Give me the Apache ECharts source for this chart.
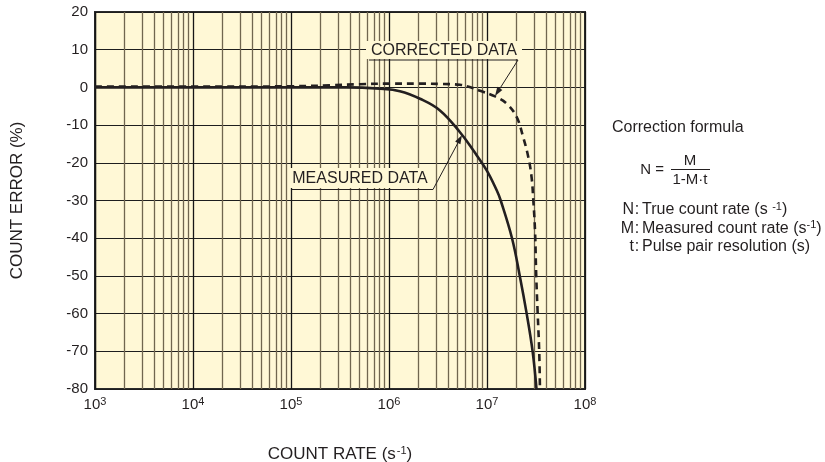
<!DOCTYPE html>
<html><head><meta charset="utf-8">
<script src="https://cdn.jsdelivr.net/npm/echarts@6/dist/echarts.min.js"></script>
<style>html,body{margin:0;padding:0;background:#fff}#c{width:825px;height:462px}</style>
</head><body><div id="c"></div>
<script>
// ---- data ----
const xDecadeExponents = [3, 4, 5, 6, 7, 8];
const minorMultipliers = [2, 3, 4, 5, 6, 7, 8, 9];
const yTickValues = [20, 10, 0, -10, -20, -30, -40, -50, -60, -70, -80];

const measuredRate  = [1e3, 1e4, 1e5, 3.7e5, 8.1e5, 1.29e6, 2.07e6, 3.31e6, 5.3e6, 7.24e6, 9.93e6, 1.256e7, 1.38e7, 1.8e7, 2.16e7, 2.54e7, 2.92e7, 3.2e7];
const measuredError = [0,   0,   0,   0,     -0.35, -1.0,   -3.0,   -6.1,   -11.9, -16.7,  -22.0,  -27.3,   -30,    -40,   -50,    -60,    -70,    -80];

const correctedRate  = [1e3, 1e4, 1e5, 2.5e5, 5e5,  1e6, 2e6, 3.5e6, 5.3e6, 7e6,  8.5e6, 1.21e7, 1.59e7, 2.01e7, 2.34e7, 2.64e7, 2.85e7, 2.97e7, 3.09e7, 3.18e7, 3.29e7, 3.41e7, 3.47e7];
const correctedError = [0.2, 0.2, 0.3, 0.55,  0.85, 1.0, 1.0, 0.9,   0.7,   -0.1, -0.9,  -2.4,   -4.3,   -7.9,   -13.2,  -18.5,  -23.8,  -30,    -38,    -50,    -60,    -70,    -80];

// ---- chart ----
const FONT = "'Liberation Sans', Arial, Helvetica, sans-serif";
const INK = '#231f20';
const BG = '#fff8d6';

const minorLines = [];
xDecadeExponents.slice(0, -1).forEach(e => {
  minorMultipliers.forEach(m => minorLines.push({ xAxis: m * Math.pow(10, e) }));
});

const chart = echarts.init(document.getElementById('c'), null, { renderer: 'canvas' });

function arrowHead(x0, y0, x1, y1, len, half) {
  const dx = x1 - x0, dy = y1 - y0, L = Math.hypot(dx, dy);
  const ux = dx / L, uy = dy / L;
  const bx = x1 - ux * len, by = y1 - uy * len;
  return [[x1, y1], [bx - uy * half, by + ux * half], [bx + uy * half, by - ux * half]];
}

const graphics = [
  // CORRECTED DATA annotation
  { type: 'rect', shape: { x: 366, y: 41, width: 156, height: 18 }, style: { fill: BG }, z: 50 },
  { type: 'text', x: 444, y: 51, z: 51, style: { text: 'CORRECTED DATA', font: '16px ' + FONT, fill: INK, align: 'center', verticalAlign: 'middle' } },
  { type: 'polyline', z: 51, shape: { points: [[369, 60], [518, 60], [497, 93]] }, style: { stroke: INK, lineWidth: 1, fill: null } },
  { type: 'polygon', z: 51, shape: { points: arrowHead(518, 60, 495, 96, 9, 3) }, style: { fill: INK } },
  // MEASURED DATA annotation
  { type: 'rect', shape: { x: 290, y: 168, width: 142, height: 20 }, style: { fill: BG }, z: 50 },
  { type: 'text', x: 360, y: 179, z: 51, style: { text: 'MEASURED DATA', font: '16px ' + FONT, fill: INK, align: 'center', verticalAlign: 'middle' } },
  { type: 'polyline', z: 51, shape: { points: [[292, 189.5], [433, 189.5], [460, 139]] }, style: { stroke: INK, lineWidth: 1, fill: null } },
  { type: 'polygon', z: 51, shape: { points: arrowHead(433, 189, 462, 135, 9, 3) }, style: { fill: INK } },
  // Right text block
  { type: 'text', x: 612, y: 128, style: { text: 'Correction formula', font: '16px ' + FONT, fill: INK, align: 'left', verticalAlign: 'middle' } },
  { type: 'text', x: 664, y: 170, style: { text: 'N =', font: '15px ' + FONT, fill: INK, align: 'right', verticalAlign: 'middle' } },
  { type: 'text', x: 690, y: 161, style: { text: 'M', font: '15px ' + FONT, fill: INK, align: 'center', verticalAlign: 'middle' } },
  { type: 'line', shape: { x1: 671, y1: 169.5, x2: 710, y2: 169.5 }, style: { stroke: INK, lineWidth: 1 } },
  { type: 'text', x: 690, y: 180, style: { text: '1-M·t', font: '15px ' + FONT, fill: INK, align: 'center', verticalAlign: 'middle' } },
];

const legendRows = [
  { k: 'N', t: 'True count rate (s {s|-1})', y: 210 },
  { k: 'M', t: 'Measured count rate (s{s|-1})', y: 228.5 },
  { k: 't', t: 'Pulse pair resolution (s)', y: 247 },
];
legendRows.forEach(r => {
  graphics.push({ type: 'text', x: 634, y: r.y, style: { text: r.k, font: '16px ' + FONT, fill: INK, align: 'right', verticalAlign: 'middle' } });
  graphics.push({ type: 'text', x: 637, y: r.y, style: { text: ':', font: '16px ' + FONT, fill: INK, align: 'center', verticalAlign: 'middle' } });
  graphics.push({ type: 'text', x: 642, y: r.y, style: { text: r.t, font: '16px ' + FONT, fill: INK, align: 'left', verticalAlign: 'middle',
    rich: { s: { fontSize: 11, fontFamily: FONT, fill: INK, verticalAlign: 'bottom', padding: [0, 0, 7, 0] } } } });
});

chart.setOption({
  animation: false,
  backgroundColor: '#ffffff',
  textStyle: { fontFamily: FONT, color: INK },
  grid: { left: 95, right: 240, top: 12, bottom: 73, containLabel: false, outerBoundsMode: 'none',
    show: true, backgroundColor: BG, borderColor: '#2b2b2b', borderWidth: 2, z: 0 },
  xAxis: {
    type: 'log', logBase: 10, min: 1e3, max: 1e8,
    name: 'COUNT RATE (s{s|-1})', nameLocation: 'middle', nameGap: 56,
    nameTextStyle: { fontSize: 17, color: INK, fontFamily: FONT, rich: { s: { fontSize: 11, color: INK, fontFamily: FONT, verticalAlign: 'bottom', padding: [0, 0, 8, 1] } } },
    axisLine: { show: false }, axisTick: { show: false },
    axisLabel: {
      margin: 7, color: INK, fontSize: 15,
      formatter: v => '{b|10}{s|' + Math.round(Math.log10(v)) + '}',
      rich: { b: { fontSize: 15, color: INK, fontFamily: FONT }, s: { fontSize: 11, color: INK, fontFamily: FONT, verticalAlign: 'bottom', padding: [0, 0, 7, 0] } }
    },
    splitLine: { show: true, lineStyle: { color: '#161616', width: 1.3 } },
  },
  yAxis: {
    type: 'value', min: -80, max: 20, interval: 10,
    name: 'COUNT ERROR (%)', nameLocation: 'middle', nameRotate: 90, nameGap: 69,
    nameTextStyle: { fontSize: 17, color: INK, fontFamily: FONT },
    axisLine: { show: false }, axisTick: { show: false },
    axisLabel: { margin: 7, color: INK, fontSize: 15 },
    splitLine: { show: true, lineStyle: { color: '#1e1e1e', width: 1.2 } },
  },
  series: [
    {
      type: 'line', data: [], silent: true, z: 1,
      markLine: { silent: true, symbol: ['none', 'none'], label: { show: false }, animation: false,
        lineStyle: { color: '#70664f', width: 1.3, type: 'solid' }, data: minorLines },
    },
    {
      name: 'Measured', type: 'line', z: 5, smooth: 0.4, symbol: 'none',
      lineStyle: { color: INK, width: 2.6 },
      data: measuredRate.map((x, i) => [x, measuredError[i]]),
    },
    {
      name: 'Corrected', type: 'line', z: 5, smooth: 0.4, symbol: 'none',
      lineStyle: { color: INK, width: 2.6, type: [7, 5] },
      data: correctedRate.map((x, i) => [x, correctedError[i]]),
    },
  ],
  graphic: graphics,
});
</script></body></html>
